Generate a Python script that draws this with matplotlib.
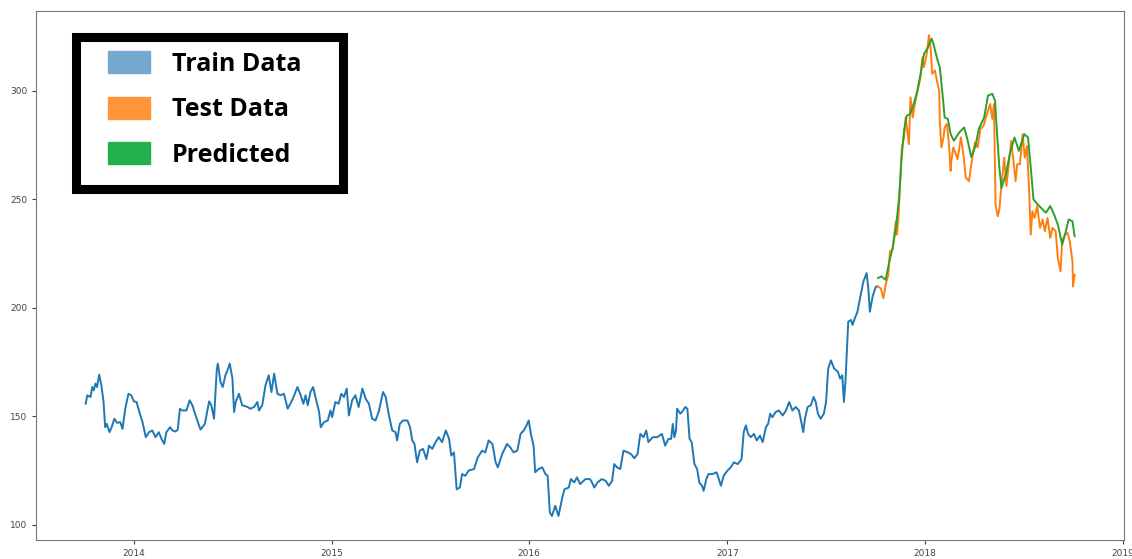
import pandas as pd
import matplotlib
matplotlib.use("Agg")
import matplotlib.pyplot as plt
import matplotlib.dates as mdates
from matplotlib.patches import Patch, Rectangle

# values
train_dates = [
    "2013-10-04", "2013-10-07", "2013-10-13", "2013-10-16", "2013-10-19", "2013-10-22", "2013-10-25",
    "2013-10-29", "2013-11-02", "2013-11-06", "2013-11-09", "2013-11-12", "2013-11-17", "2013-11-21",
    "2013-11-26", "2013-12-01", "2013-12-07", "2013-12-11", "2013-12-16", "2013-12-22", "2013-12-27",
    "2014-01-01", "2014-01-06", "2014-01-12", "2014-01-17", "2014-01-23", "2014-01-29", "2014-02-04",
    "2014-02-10", "2014-02-16", "2014-02-21", "2014-02-26", "2014-03-02", "2014-03-09", "2014-03-13",
    "2014-03-19", "2014-03-23", "2014-03-27", "2014-03-31", "2014-04-08", "2014-04-14", "2014-04-19",
    "2014-04-27", "2014-05-04", "2014-05-12", "2014-05-20", "2014-05-24", "2014-05-29", "2014-06-03",
    "2014-06-05", "2014-06-10", "2014-06-14", "2014-06-19", "2014-06-24", "2014-06-27", "2014-07-02",
    "2014-07-05", "2014-07-08", "2014-07-14", "2014-07-20", "2014-07-30", "2014-08-04", "2014-08-11",
    "2014-08-17", "2014-08-20", "2014-08-26", "2014-09-01", "2014-09-07", "2014-09-12", "2014-09-17",
    "2014-09-23", "2014-09-29", "2014-10-05", "2014-10-12", "2014-10-21", "2014-10-30", "2014-11-05",
    "2014-11-10", "2014-11-14", "2014-11-18", "2014-11-23", "2014-11-28", "2014-12-03", "2014-12-09",
    "2014-12-12", "2014-12-18", "2014-12-25", "2014-12-30", "2015-01-02", "2015-01-08", "2015-01-14",
    "2015-01-19", "2015-01-24", "2015-01-29", "2015-02-02", "2015-02-08", "2015-02-14", "2015-02-20",
    "2015-02-27", "2015-03-05", "2015-03-11", "2015-03-17", "2015-03-23", "2015-03-29", "2015-04-06",
    "2015-04-11", "2015-04-17", "2015-04-23", "2015-04-29", "2015-05-02", "2015-05-07", "2015-05-13",
    "2015-05-21", "2015-05-26", "2015-05-30", "2015-06-03", "2015-06-08", "2015-06-13", "2015-06-19",
    "2015-06-25", "2015-06-30", "2015-07-06", "2015-07-12", "2015-07-18", "2015-07-24", "2015-07-31",
    "2015-08-06", "2015-08-10", "2015-08-15", "2015-08-20", "2015-08-26", "2015-08-30", "2015-09-05",
    "2015-09-11", "2015-09-21", "2015-09-28", "2015-10-06", "2015-10-12", "2015-10-18", "2015-10-25",
    "2015-10-31", "2015-11-04", "2015-11-12", "2015-11-21", "2015-11-27", "2015-12-03", "2015-12-10",
    "2015-12-16", "2015-12-22", "2015-12-27", "2015-12-31", "2016-01-04", "2016-01-09", "2016-01-12",
    "2016-01-18", "2016-01-25", "2016-01-31", "2016-02-04", "2016-02-08", "2016-02-12", "2016-02-18",
    "2016-02-24", "2016-03-02", "2016-03-06", "2016-03-14", "2016-03-18", "2016-03-24", "2016-03-29",
    "2016-04-04", "2016-04-14", "2016-04-22", "2016-04-26", "2016-04-30", "2016-05-06", "2016-05-14",
    "2016-05-21", "2016-05-27", "2016-06-02", "2016-06-06", "2016-06-11", "2016-06-17", "2016-06-23",
    "2016-07-01", "2016-07-07", "2016-07-13", "2016-07-19", "2016-07-24", "2016-07-30", "2016-08-04",
    "2016-08-08", "2016-08-16", "2016-08-24", "2016-09-02", "2016-09-08", "2016-09-14", "2016-09-19",
    "2016-09-22", "2016-09-25", "2016-09-28", "2016-09-30", "2016-10-06", "2016-10-11", "2016-10-15",
    "2016-10-19", "2016-10-23", "2016-10-27", "2016-11-01", "2016-11-06", "2016-11-10", "2016-11-15",
    "2016-11-18", "2016-11-23", "2016-11-27", "2016-12-04", "2016-12-12", "2016-12-16", "2016-12-20",
    "2016-12-25", "2017-01-01", "2017-01-07", "2017-01-13", "2017-01-20", "2017-01-27", "2017-01-31",
    "2017-02-04", "2017-02-08", "2017-02-13", "2017-02-19", "2017-02-24", "2017-03-02", "2017-03-07",
    "2017-03-13", "2017-03-17", "2017-03-21", "2017-03-25", "2017-03-31", "2017-04-06", "2017-04-13",
    "2017-04-19", "2017-04-25", "2017-05-01", "2017-05-07", "2017-05-13", "2017-05-18", "2017-05-21",
    "2017-05-24", "2017-05-29", "2017-06-04", "2017-06-09", "2017-06-13", "2017-06-17", "2017-06-22",
    "2017-06-28", "2017-07-02", "2017-07-06", "2017-07-11", "2017-07-17", "2017-07-24", "2017-07-28",
    "2017-08-01", "2017-08-04", "2017-08-07", "2017-08-12", "2017-08-17", "2017-08-20", "2017-08-24",
    "2017-08-29", "2017-09-04", "2017-09-09", "2017-09-15", "2017-09-18", "2017-09-21", "2017-09-26",
    "2017-10-02", "2017-10-06",
]
train_close = [
    155.7, 159.6, 158.8, 163.4, 161.9, 165.0, 163.4,
    169.1, 164.2, 156.5, 144.9, 146.4, 142.6, 144.9,
    148.8, 146.9, 147.2, 144.1, 153.4, 160.3, 159.6,
    156.8, 156.5, 151.1, 147.2, 140.3, 142.6, 143.4,
    140.3, 142.6, 139.5, 137.2, 142.6, 144.9, 143.4,
    142.9, 143.8, 153.4, 152.6, 152.6, 157.3, 155.0,
    148.8, 143.8, 146.4, 156.8, 155.0, 148.8, 171.2,
    174.2, 165.7, 163.4, 168.8, 171.9, 174.2, 167.3,
    151.9, 156.5, 160.3, 155.0, 154.2, 153.4, 154.2,
    156.5, 152.6, 155.0, 164.2, 168.8, 161.1, 169.6,
    160.3, 159.6, 160.3, 153.4, 157.7, 163.4, 159.6,
    155.7, 159.6, 155.0, 161.1, 163.4, 158.0, 151.9,
    144.9, 147.2, 148.0, 152.6, 149.5, 156.5, 155.7,
    160.3, 158.8, 162.7, 150.3, 157.3, 159.6, 154.2,
    162.7, 158.0, 155.7, 148.8, 148.0, 151.9, 161.1,
    158.8, 150.3, 143.4, 142.6, 138.8, 146.4, 148.0,
    148.0, 144.9, 138.8, 137.2, 128.7, 134.1, 134.9,
    130.2, 136.4, 134.9, 138.0, 140.3, 138.0, 143.4,
    139.5, 131.8, 133.3, 116.3, 117.1, 123.3, 122.5,
    124.9, 125.6, 131.0, 134.1, 133.3, 138.8, 137.2,
    128.7, 126.4, 132.5, 137.2, 135.6, 133.3, 134.1,
    141.8, 143.4, 145.7, 148.0, 141.8, 136.4, 124.1,
    125.6, 126.4, 123.3, 122.5, 105.6, 104.0, 108.7,
    104.0, 112.5, 116.3, 117.1, 121.0, 119.4, 121.8,
    118.7, 121.0, 121.0, 119.4, 117.1, 119.4, 121.0,
    120.2, 117.9, 120.2, 127.9, 126.4, 125.6, 134.1,
    133.3, 132.5, 130.6, 132.5, 141.8, 140.3, 143.4,
    138.0, 140.3, 140.3, 141.8, 136.4, 139.5, 139.5,
    146.4, 140.3, 143.4, 153.4, 151.1, 152.6, 154.2,
    153.4, 139.5, 138.0, 127.9, 125.6, 119.4, 117.9,
    115.6, 121.0, 123.3, 123.3, 124.1, 121.0, 117.9,
    122.5, 124.9, 126.4, 128.7, 127.9, 130.2, 142.6,
    145.7, 141.8, 140.3, 141.8, 138.8, 141.0, 138.0,
    144.9, 146.4, 151.1, 149.5, 151.9, 152.6, 150.3,
    152.6, 156.5, 152.6, 154.2, 152.6, 146.4, 142.6,
    148.8, 154.2, 155.0, 158.8, 156.5, 151.1, 148.8,
    151.1, 156.5, 171.9, 175.7, 171.9, 170.4, 167.3,
    168.8, 156.5, 166.5, 193.5, 194.3, 192.0, 195.0,
    198.1, 205.9, 212.0, 215.9, 208.9, 198.1, 205.1,
    209.7, 209.7,
]

test_dates = [
    "2017-10-06", "2017-10-11", "2017-10-16", "2017-10-20", "2017-10-25", "2017-10-28", "2017-11-02",
    "2017-11-05", "2017-11-08", "2017-11-10", "2017-11-13", "2017-11-16", "2017-11-19", "2017-11-23",
    "2017-11-26", "2017-11-29", "2017-12-02", "2017-12-05", "2017-12-09", "2017-12-13", "2017-12-18",
    "2017-12-23", "2017-12-27", "2017-12-30", "2018-01-04", "2018-01-08", "2018-01-11", "2018-01-14",
    "2018-01-19", "2018-01-24", "2018-01-27", "2018-01-28", "2018-01-31", "2018-02-04", "2018-02-06",
    "2018-02-10", "2018-02-14", "2018-02-17", "2018-02-18", "2018-02-22", "2018-03-02", "2018-03-08",
    "2018-03-13", "2018-03-17", "2018-03-23", "2018-03-29", "2018-04-03", "2018-04-08", "2018-04-13",
    "2018-04-19", "2018-04-25", "2018-05-01", "2018-05-05", "2018-05-08", "2018-05-11", "2018-05-15",
    "2018-05-18", "2018-05-22", "2018-05-27", "2018-05-31", "2018-06-05", "2018-06-09", "2018-06-14",
    "2018-06-17", "2018-06-20", "2018-06-25", "2018-06-30", "2018-07-04", "2018-07-08", "2018-07-12",
    "2018-07-15", "2018-07-18", "2018-07-22", "2018-07-27", "2018-08-01", "2018-08-06", "2018-08-10",
    "2018-08-15", "2018-08-20", "2018-08-24", "2018-08-30", "2018-09-03", "2018-09-08", "2018-09-11",
    "2018-09-16", "2018-09-21", "2018-09-25", "2018-09-30", "2018-10-01", "2018-10-04",
]
test_close = [
    209.7, 208.9, 204.3, 210.5, 215.1, 225.9, 226.7,
    233.6, 239.8, 233.6, 242.9, 258.3, 273.8, 278.4,
    287.6, 281.5, 275.3, 296.9, 287.6, 293.8, 300.0,
    305.4, 315.4, 310.8, 317.0, 325.5, 320.0, 307.7,
    309.3, 303.1, 300.0, 286.1, 273.8, 278.4, 283.0,
    284.6, 275.3, 263.0, 266.8, 273.8, 268.4, 278.4,
    269.9, 259.9, 258.3, 269.1, 276.1, 273.8, 282.3,
    283.8, 289.2, 293.8, 286.9, 293.8, 247.5, 242.1,
    245.2, 256.8, 269.1, 256.0, 267.6, 276.9, 265.3,
    258.3, 266.1, 266.1, 279.9, 269.1, 274.5, 253.7,
    233.6, 244.4, 241.3, 246.8, 236.7, 240.6, 235.2,
    241.3, 232.1, 236.7, 235.2, 222.8, 216.7, 230.6,
    233.6, 234.4, 230.6, 221.3, 209.7, 215.1,
]

pred_dates = [
    "2017-10-06", "2017-10-12", "2017-10-20", "2017-10-27", "2017-11-02", "2017-11-08", "2017-11-14",
    "2017-11-18", "2017-11-23", "2017-11-28", "2017-12-04", "2017-12-10", "2017-12-17", "2017-12-23",
    "2017-12-30", "2018-01-05", "2018-01-13", "2018-01-17", "2018-01-24", "2018-01-28", "2018-02-02",
    "2018-02-06", "2018-02-12", "2018-02-17", "2018-02-23", "2018-03-05", "2018-03-14", "2018-03-20",
    "2018-03-27", "2018-04-04", "2018-04-10", "2018-04-20", "2018-04-27", "2018-05-05", "2018-05-10",
    "2018-05-13", "2018-05-18", "2018-05-22", "2018-05-30", "2018-06-07", "2018-06-15", "2018-06-23",
    "2018-07-03", "2018-07-10", "2018-07-15", "2018-07-20", "2018-07-28", "2018-08-06", "2018-08-12",
    "2018-08-20", "2018-08-27", "2018-09-03", "2018-09-11", "2018-09-17", "2018-09-23", "2018-09-30",
    "2018-10-04",
]
pred_close = [
    213.6, 214.4, 212.8, 221.3, 227.5, 236.7, 250.6,
    267.6, 281.5, 288.4, 289.2, 293.1, 299.2, 306.9,
    317.0, 319.3, 323.9, 320.8, 313.9, 310.8, 298.5,
    287.6, 286.9, 280.0, 276.9, 280.7, 283.0, 277.6,
    269.4, 274.5, 282.3, 287.6, 297.7, 298.5, 295.4,
    283.0, 264.5, 255.2, 261.4, 271.4, 278.4, 272.2,
    279.9, 278.4, 264.5, 249.9, 247.5, 245.2, 243.7,
    246.8, 242.9, 238.3, 229.0, 234.4, 240.6, 239.8,
    232.9,
]

labels = ["Train Data", "Test Data", "Predicted"]
legend_colors = ["#74a9cf", "#ff9538", "#22b14c"]

fig, ax = plt.subplots(figsize=(11.32, 5.59), dpi=100)
fig.subplots_adjust(left=0.032, right=0.993, top=0.980, bottom=0.034)

ax.plot(pd.to_datetime(train_dates), train_close, color="#1f77b4", lw=1.4)
ax.plot(pd.to_datetime(test_dates), test_close, color="#ff7f0e", lw=1.4)
ax.plot(pd.to_datetime(pred_dates), pred_close, color="#2ca02c", lw=1.4)

ax.xaxis.set_major_locator(mdates.YearLocator())
ax.xaxis.set_major_formatter(mdates.DateFormatter("%Y"))
ax.set_yticks([100, 150, 200, 250, 300])
ax.tick_params(labelsize=6.5, colors="#444444", length=3)
for s in ax.spines.values():
    s.set_color("#777777")

# thick black box behind the legend entries
box = Rectangle((0.0368, 0.6645), 0.2449, 0.2873, transform=ax.transAxes,
                facecolor="white", edgecolor="black", linewidth=6.5, zorder=5)
ax.add_patch(box)

handles = [Patch(facecolor=c, edgecolor=c) for c in legend_colors]
leg = ax.legend(handles, labels, loc="upper left", bbox_to_anchor=(0.0662, 0.924),
                borderaxespad=0, borderpad=0, frameon=False,
                prop={"family": "Open Sans", "weight": "bold", "size": 18},
                handlelength=1.68, handleheight=0.96, handletextpad=0.88,
                labelspacing=0.8)
leg.set_zorder(6)

plt.savefig("out.png", dpi=100)
